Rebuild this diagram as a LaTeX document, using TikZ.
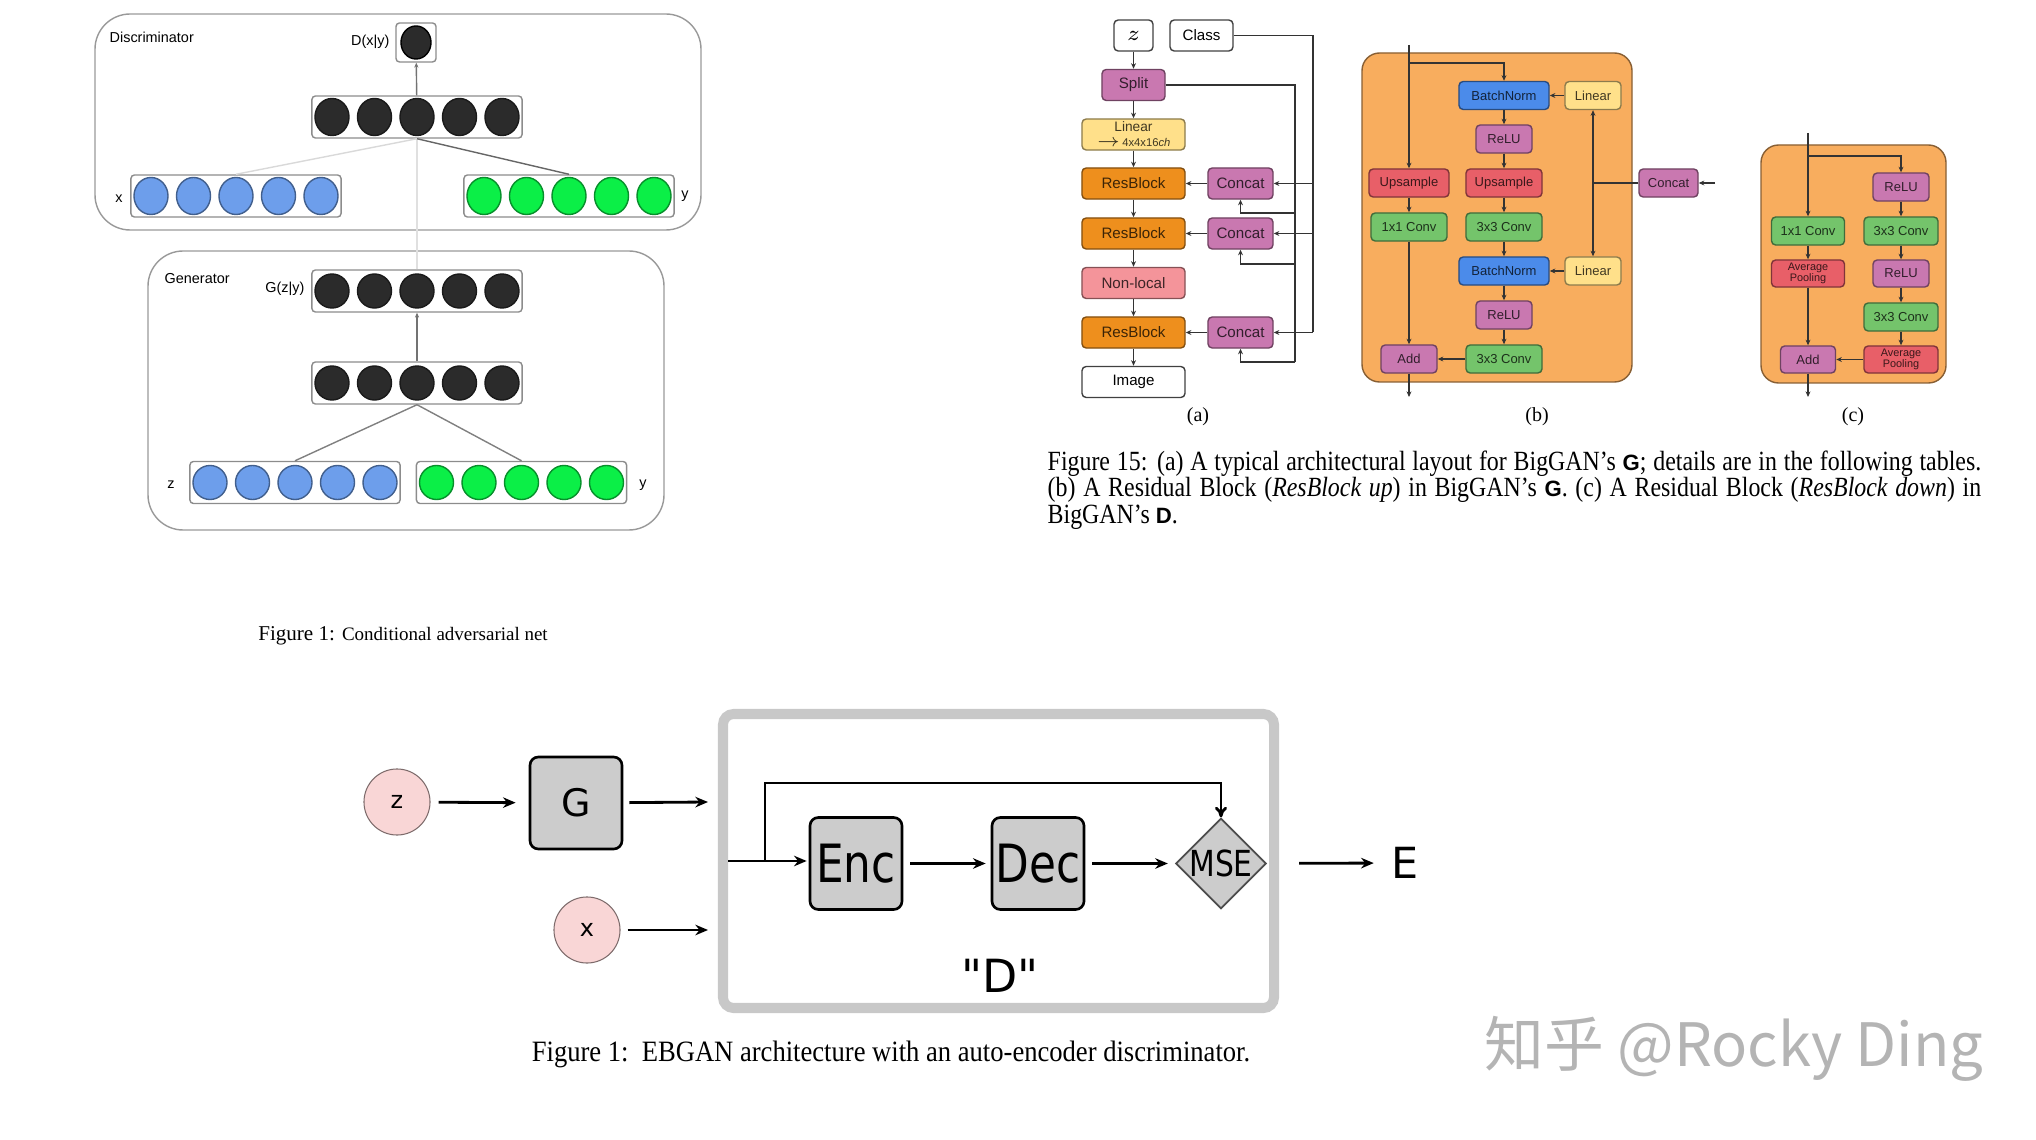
\documentclass[tikz,border=0pt]{standalone}
\usepackage{fontspec}
\setmainfont{Liberation Serif}
\setsansfont{Liberation Sans}
\newfontfamily\capfont{Liberation Serif}[FakeStretch=0.86]
\newfontfamily\ebcapfont{Liberation Serif}[FakeStretch=0.9]
\newfontfamily\ebfont{DejaVu Sans}[FakeStretch=0.83]
\newfontfamily\plainfont{DejaVu Sans}
\newfontfamily\wmfont{Noto Sans CJK SC}
\usetikzlibrary{arrows.meta,positioning,shapes.geometric}

\definecolor{bgorange}{HTML}{F8AD5E}
\definecolor{resorange}{HTML}{EE8F1D}
\definecolor{magentabox}{HTML}{C978B0}
\definecolor{lightyellow}{HTML}{FFE08A}
\definecolor{salmon}{HTML}{F4949A}
\definecolor{normblue}{HTML}{4B8BEA}
\definecolor{upred}{HTML}{E85F68}
\definecolor{convgreen}{HTML}{74C46B}
\definecolor{unitblue}{HTML}{6D9EEB}
\definecolor{unitgreen}{HTML}{0BEF47}
\definecolor{unitblack}{HTML}{2B2B2B}
\definecolor{ebpink}{HTML}{F9D6D6}
\definecolor{ebgray}{HTML}{CCCCCC}
\definecolor{framegray}{HTML}{C8C8C8}
\definecolor{markgray}{HTML}{B4B4B4}

\begin{document}
\begin{tikzpicture}[
  x=0.01cm, y=-0.01cm,
  blk/.style={draw=black!75, rounded corners=1.2pt, inner sep=0pt, line width=0.4pt, minimum height=0.31cm, font=\sffamily\fontsize{4.3pt}{4.6pt}\selectfont},
  blkb/.style={blk, minimum height=0.28cm, font=\sffamily\fontsize{3.7pt}{3.6pt}\selectfont},
  fillc/.style={fill=#1, draw=#1!55!black, text=#1!25!black},
  wire/.style={line width=0.4pt, draw=black!80},
  biglink/.style={wire, -{Stealth[length=1.6pt,width=1.4pt]}},
  blockbg/.style={fill=bgorange, draw=bgorange!55!black, line width=0.4pt, rounded corners=5pt},
  panel/.style={draw=black!40, line width=0.4pt, rounded corners=10pt},
  layer/.style={draw=black!45, fill=white, rounded corners=1pt, line width=0.4pt, minimum width=2.1cm, minimum height=0.42cm, inner sep=0pt},
  unit/.style={ellipse, inner sep=0pt, line width=0.4pt, minimum width=0.34cm, minimum height=#1},
  condlink/.style={line width=0.4pt, black!55, -{Stealth[length=1.4pt,width=1.2pt]}},
  condlbl/.style={inner sep=0pt, font=\sffamily\fontsize{4.1pt}{4.5pt}\selectfont},
  sublbl/.style={inner sep=0pt, font=\rmfamily\fontsize{5.7pt}{6pt}\selectfont},
  ebarr/.style={line width=0.8pt, -{Stealth[length=3.6pt,width=3pt]}},
  ebblock/.style={draw, line width=0.75pt, rounded corners=2.4pt, fill=ebgray, minimum size=0.92cm, inner sep=0pt, font=\ebfont\fontsize{15pt}{16pt}\selectfont},
  ebin/.style={circle, draw=ebpink!50!black, fill=ebpink, line width=0.3pt, minimum size=0.66cm, inner sep=0pt, font=\plainfont\fontsize{6.8pt}{7pt}\selectfont}
]
\useasboundingbox (0,0) rectangle (2036,1140);

% conditional adversarial net
\draw[panel] (95,14) rectangle (701,230);
\draw[panel] (148,251) rectangle (664,530);
\node[condlbl, anchor=west] (dname) at (109,37) {Discriminator};
\node[condlbl, anchor=west] (gname) at (164,279) {Generator};
\node[layer, minimum width=0.4cm, minimum height=0.39cm] (dout) at (416,42.5) {};
\node[unit=0.33cm, minimum width=0.3cm, fill=unitblack, draw=black] (dout1) at (416,42.5) {};
\foreach \lay/\cx/\cy/\col/\h in {dh/417/117/unitblack/0.37cm, dx/236/196/unitblue/0.37cm, dy/569/196/unitgreen/0.37cm,
    gout/417/291/unitblack/0.34cm, gh/417/383/unitblack/0.34cm, gz/295/482.5/unitblue/0.34cm, gy/521.5/482.5/unitgreen/0.34cm} {
  \node[layer] (\lay) at (\cx,\cy) {};
  \foreach \k in {1,...,5}
    \node[unit=\h, fill=\col, draw=\col!60!black] (\lay\k) at (\cx+42.5*\k-127.5,\cy) {};
}
\node[condlbl, anchor=east] (dxy) at (390,42) {D(x|y)};
\node[condlbl, anchor=east] (gzy) at (305,289) {G(z|y)};
\node[condlbl] (xname) at (119,199) {x};
\node[condlbl] (dyname) at (685,196) {y};
\node[condlbl] (zname) at (171,485) {z};
\node[condlbl] (gyname) at (643,485) {y};
\draw[line width=0.4pt, black!12] (gout) -- (dh);
\draw[line width=0.4pt, black!15] (dx.north) -- (dh.south);
\draw[line width=0.4pt, black!60] (dy.north) -- (dh.south);
\draw[condlink] (dh) -- (dout);
\draw[condlink] (gh) -- (gout);
\draw[line width=0.4pt, black!50] (gz.north) -- (gh.south);
\draw[line width=0.4pt, black!50] (gy.north) -- (gh.south);
\node[inner sep=0pt] (capcond) at (403,636) {\fontsize{6pt}{6pt}\selectfont Figure 1: \fontsize{5.4pt}{6pt}\selectfont Conditional adversarial net};

% BigGAN (a)
\node[blk, minimum width=0.39cm, font=\fontsize{6pt}{6pt}\selectfont] (zin) at (1133.5,35.5) {$z$};
\node[blk, minimum width=0.63cm] (cls) at (1201.5,35.5) {Class};
\node[blk, fillc=magentabox, minimum width=0.63cm] (spl) at (1133.5,85) {Split};
\node[blk, fillc=lightyellow, minimum width=1.03cm, align=center, font=\sffamily\fontsize{3.9pt}{4.3pt}\selectfont] (lin) at (1133.5,134.5) {Linear\\{\fontsize{3.2pt}{4.3pt}\selectfont$\to$\,4x4x16\textit{ch}}};
\node[blk, fillc=resorange, minimum width=1.03cm] (res1) at (1133.5,183.5) {ResBlock};
\node[blk, fillc=resorange, minimum width=1.03cm] (res2) at (1133.5,233.5) {ResBlock};
\node[blk, fillc=salmon, minimum width=1.03cm] (nloc) at (1133.5,283) {Non-local};
\node[blk, fillc=resorange, minimum width=1.03cm] (res3) at (1133.5,332.5) {ResBlock};
\node[blk, minimum width=1.03cm] (img) at (1133.5,382) {Image};
\node[blk, fillc=magentabox, minimum width=0.65cm] (cat1) at (1240.5,183.5) {Concat};
\node[blk, fillc=magentabox, minimum width=0.65cm] (cat2) at (1240.5,233.5) {Concat};
\node[blk, fillc=magentabox, minimum width=0.65cm] (cat3) at (1240.5,332.5) {Concat};
\draw[biglink] (zin) -- (spl);
\draw[biglink] (spl) -- (lin);
\draw[biglink] (lin) -- (res1);
\draw[biglink] (res1) -- (res2);
\draw[biglink] (res2) -- (nloc);
\draw[biglink] (nloc) -- (res3);
\draw[biglink] (res3) -- (img);
\foreach \c/\r in {cat1/res1, cat2/res2, cat3/res3}
  \draw[biglink] (\c) -- (\r);
\coordinate (clsbus) at (1313,332.5);
\draw[wire] (cls.east) -| (clsbus);
\foreach \c in {cat1, cat2, cat3}
  \draw[biglink] (\c.east -| clsbus) -- (\c.east);
\coordinate (splbus) at (1295,362);
\coordinate (tap1) at (1295,213);
\coordinate (tap2) at (1295,264);
\draw[wire] (spl.east) -| (splbus);
\draw[biglink] (tap1) -| (cat1.south);
\draw[biglink] (tap2) -| (cat2.south);
\draw[biglink] (splbus) -| (cat3.south);
\node[sublbl] (lbla) at (1198,417) {(a)};

% BigGAN (b)
\draw[blockbg] (1362,53) rectangle (1632,382);
\node[blkb, fillc=normblue, minimum width=0.9cm] (bbn1) at (1504,95.5) {BatchNorm};
\node[blkb, fillc=lightyellow, minimum width=0.56cm] (blin1) at (1593,95.5) {Linear};
\node[blkb, fillc=magentabox, minimum width=0.56cm] (brelu1) at (1504,139) {ReLU};
\node[blkb, fillc=upred, minimum width=0.8cm] (bupl) at (1409,183) {Upsample};
\node[blkb, fillc=upred, minimum width=0.76cm] (bupr) at (1504,183) {Upsample};
\node[blkb, fillc=convgreen, minimum width=0.76cm] (bconvl) at (1409,227) {1x1 Conv};
\node[blkb, fillc=convgreen, minimum width=0.76cm] (bconva) at (1504,227) {3x3 Conv};
\node[blkb, fillc=normblue, minimum width=0.9cm] (bbn2) at (1504,271) {BatchNorm};
\node[blkb, fillc=lightyellow, minimum width=0.56cm] (blin2) at (1593,271) {Linear};
\node[blkb, fillc=magentabox, minimum width=0.56cm] (brelu2) at (1504,315) {ReLU};
\node[blkb, fillc=magentabox, minimum width=0.56cm] (badd) at (1409,359) {Add};
\node[blkb, fillc=convgreen, minimum width=0.76cm] (bconvb) at (1504,359) {3x3 Conv};
\node[blkb, fillc=magentabox, minimum width=0.59cm] (bcat) at (1668.5,183) {Concat};
\coordinate (bin) at (1409,45);
\coordinate (bsplit) at (1409,63);
\coordinate (bjoin) at (1593,183);
\coordinate (bcatin) at (1715,183);
\coordinate (bout) at (1409,397);
\draw[biglink] (bin) -- (bupl);
\draw[biglink] (bsplit) -| (bbn1.north);
\draw[biglink] (bbn1) -- (brelu1);
\draw[biglink] (brelu1) -- (bupr);
\draw[biglink] (bupr) -- (bconva);
\draw[biglink] (bconva) -- (bbn2);
\draw[biglink] (bbn2) -- (brelu2);
\draw[biglink] (brelu2) -- (bconvb);
\draw[biglink] (bupl) -- (bconvl);
\draw[biglink] (bconvl) -- (badd);
\draw[biglink] (bconvb) -- (badd);
\draw[biglink] (blin1) -- (bbn1);
\draw[biglink] (blin2) -- (bbn2);
\draw[wire] (bcat) -- (bjoin);
\draw[biglink] (bjoin) -- (blin1);
\draw[biglink] (bjoin) -- (blin2);
\draw[biglink] (bcatin) -- (bcat);
\draw[biglink] (badd) -- (bout);
\node[sublbl] (lblb) at (1537,417) {(b)};

% BigGAN (c)
\draw[blockbg] (1761,145) rectangle (1946,383);
\node[blkb, fillc=magentabox, minimum width=0.56cm] (crelu1) at (1901,187) {ReLU};
\node[blkb, fillc=convgreen, minimum width=0.73cm] (cconvl) at (1808,231) {1x1 Conv};
\node[blkb, fillc=convgreen, minimum width=0.74cm] (cconva) at (1901,231) {3x3 Conv};
\node[blkb, fillc=upred, minimum width=0.73cm, minimum height=0.27cm, align=center, font=\sffamily\fontsize{3.1pt}{3.2pt}\selectfont] (cpooll) at (1808,273.5) {Average\\Pooling};
\node[blkb, fillc=magentabox, minimum width=0.56cm, minimum height=0.27cm] (crelu2) at (1901,273.5) {ReLU};
\node[blkb, fillc=convgreen, minimum width=0.74cm] (cconvb) at (1901,317) {3x3 Conv};
\node[blkb, fillc=magentabox, minimum width=0.55cm, minimum height=0.27cm] (cadd) at (1808,359.5) {Add};
\node[blkb, fillc=upred, minimum width=0.74cm, minimum height=0.27cm, align=center, font=\sffamily\fontsize{3.1pt}{3.2pt}\selectfont] (cpoolr) at (1901,359.5) {Average\\Pooling};
\coordinate (cin) at (1808,133);
\coordinate (csplit) at (1808,156);
\coordinate (cout) at (1808,397);
\draw[biglink] (cin) -- (cconvl);
\draw[biglink] (csplit) -| (crelu1.north);
\draw[biglink] (crelu1) -- (cconva);
\draw[biglink] (cconva) -- (crelu2);
\draw[biglink] (crelu2) -- (cconvb);
\draw[biglink] (cconvb) -- (cpoolr);
\draw[biglink] (cpoolr) -- (cadd);
\draw[biglink] (cconvl) -- (cpooll);
\draw[biglink] (cpooll) -- (cadd);
\draw[biglink] (cadd) -- (cout);
\node[sublbl] (lblc) at (1853,417) {(c)};

\node[anchor=north west, inner sep=0pt, align=left, font=\capfont\fontsize{7.9pt}{7.55pt}\selectfont] (capbig) at (1047,450)
  {\makebox[9.33cm][s]{Figure 15: (a) A typical architectural layout for BigGAN’s {\sffamily\bfseries\fontsize{6.3pt}{6pt}\selectfont G}; details are in the following tables.}\\
   \makebox[9.33cm][s]{(b) A Residual Block (\textit{ResBlock up}) in BigGAN’s {\sffamily\bfseries\fontsize{6.3pt}{6pt}\selectfont G}. (c) A Residual Block (\textit{ResBlock down}) in}\\
   BigGAN’s {\sffamily\bfseries\fontsize{6.3pt}{6pt}\selectfont D}.};

% EBGAN
\draw[line width=2.85pt, framegray, rounded corners=3pt] (723,714) rectangle (1274,1008);
\node[ebin] (zc) at (397,802) {z};
\node[ebin] (xc) at (587,930) {x};
\node[ebblock, font=\plainfont\fontsize{10.8pt}{11pt}\selectfont] (gen) at (576,803) {G};
\node[ebblock] (enc) at (856,863.5) {Enc};
\node[ebblock] (dec) at (1038,863.5) {Dec};
\node[diamond, draw=black!70, fill=ebgray, line width=0.5pt, minimum width=0.9cm, minimum height=0.86cm, inner sep=0pt, font=\ebfont\fontsize{10.2pt}{11pt}\selectfont] (mse) at (1221,863.5) {MSE};
\node[inner sep=0pt, font=\plainfont\fontsize{12.2pt}{13pt}\selectfont] (elbl) at (1405,863) {E};
\node[inner sep=0pt, font=\plainfont\fontsize{13pt}{14pt}\selectfont] (dlbl) at (1000,976) {"D"};
\coordinate (genout) at (708,802);
\coordinate (xout) at (708,930);
\coordinate (din) at (728,861);
\coordinate (dfork) at (765,861);
\coordinate (dloop) at (765,783);
\draw[ebarr, shorten <=0.08cm, shorten >=0.13cm] (zc) -- (gen);
\draw[ebarr, shorten <=0.06cm] (gen) -- (genout);
\draw[ebarr, shorten <=0.07cm] (xc) -- (xout);
\draw[ebarr, shorten >=0.02cm] (din) -- (enc.west |- din);
\draw[line width=0.8pt, -{To[length=3pt,width=3.4pt]}] (dfork) -- (dloop) -| (mse.north);
\draw[ebarr, shorten <=0.07cm, shorten >=0.05cm] (enc) -- (dec);
\draw[ebarr, shorten <=0.07cm, shorten >=0.07cm] (dec) -- (mse);
\draw[ebarr, shorten <=0.32cm, shorten >=0.17cm] (mse) -- (elbl);
\node[inner sep=0pt, font=\ebcapfont\fontsize{8.4pt}{9pt}\selectfont] (capeb) at (891,1054) {Figure 1:\ \ EBGAN architecture with an auto-encoder discriminator.};

\node[inner sep=0pt, text=markgray, font=\wmfont\fontsize{17pt}{17pt}\selectfont] (mark) at (1734,1049) {知乎 @Rocky Ding};
\end{tikzpicture}
\end{document}
